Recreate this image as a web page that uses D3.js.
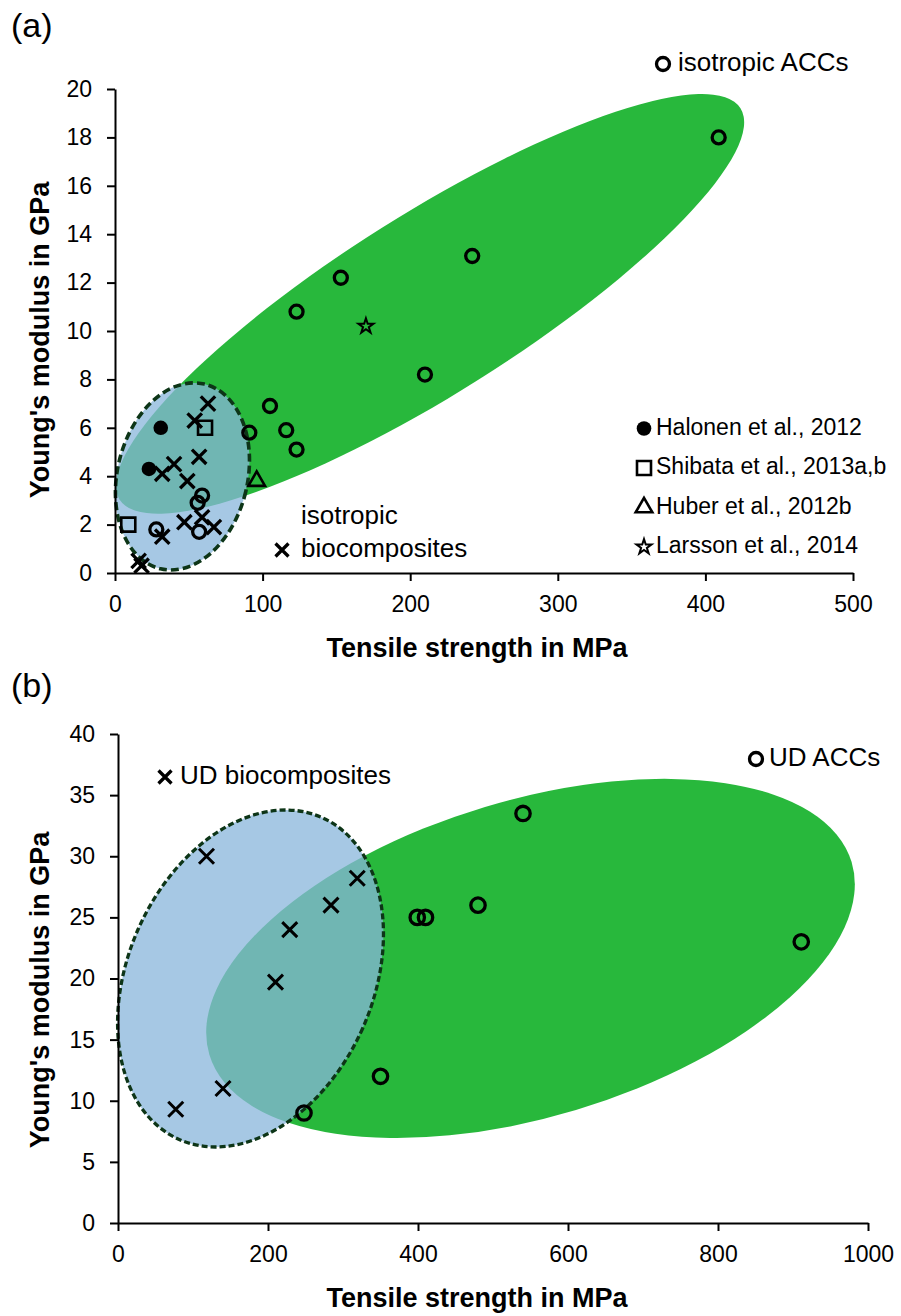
<!DOCTYPE html>
<html>
<head>
<meta charset="utf-8">
<script src="https://cdn.jsdelivr.net/npm/d3@7"></script>
<style>
  body { margin: 0; background: #fff; }
  text { font-family: "Liberation Sans", Arial, sans-serif; fill: #000; }
</style>
</head>
<body>
<svg id="chart" width="901" height="1316"></svg>
<script>
// ---- panel (a): isotropic materials [tensile strength MPa, Young's modulus GPa]
const isoACCs = [[409, 18], [242, 13.1], [153, 12.2], [123, 10.8], [210, 8.2], [105, 6.9],
                 [91, 5.8], [116, 5.9], [123, 5.1], [59, 3.2], [56, 2.9], [57, 1.7], [28, 1.8]];
const halonen = [[31, 6], [23, 4.3]];
const shibata = [[61, 6], [9, 2]];
const huber = [[96, 3.8]];
const larsson = [[170, 10.2]];
const isoBio = [[63, 7.0], [54, 6.3], [57, 4.8], [40, 4.5], [32, 4.1], [49, 3.8], [59, 2.3],
                [47, 2.1], [67, 1.9], [32, 1.5], [16, 0.5], [18, 0.3]];
const refNames = ["Halonen et al., 2012", "Shibata et al., 2013a,b", "Huber et al., 2012b", "Larsson et al., 2014"];

// ---- panel (b): unidirectional materials
const udACCs = [[540, 33.5], [480, 26], [399, 25], [410, 25], [911, 23], [350, 12], [248, 9]];
const udBio = [[118, 30], [319, 28.2], [284, 26], [229, 24], [210, 19.7], [140, 11], [77, 9.3]];

// shaded regions: centre in data units, semi-axes in x-axis units, tilt in degrees
const isoAccRegion = { cx: 213.4, cy: 11.12, rx: 248.6, ry: 61, angle: -32.2 };
const isoBioRegion = { cx: 45.7, cy: 3.99, rx: 44.1, ry: 64.3, angle: 13.4 };
const udAccRegion = { cx: 550, cy: 21.64, rx: 447, ry: 211, angle: -16.7 };
const udBioRegion = { cx: 176.7, cy: 20.0, rx: 163.6, ry: 234.8, angle: 23.9 };

const svg = d3.select("#chart");
const GREEN = "#28b83c";
const BLUE = "rgb(136,182,219)";

function crossPath(s) {
    return `M${-s},${-s}L${s},${s}M${-s},${s}L${s},${-s}`;
}

function drawPanel(p) {
    const x = d3.scaleLinear().domain(p.xDomain).range(p.xRange);
    const y = d3.scaleLinear().domain(p.yDomain).range(p.yRange);
    const k = Math.abs(x(1) - x(0));
    const g = svg.append("g");

    // regions
    function region(r, fill, opacity, dashed) {
        const e = g.append("ellipse")
            .attr("cx", 0).attr("cy", 0)
            .attr("rx", r.rx * k).attr("ry", r.ry * k)
            .attr("transform", `translate(${x(r.cx)},${y(r.cy)}) rotate(${r.angle})`)
            .attr("fill", fill)
            .attr("fill-opacity", opacity);
        if (dashed) {
            e.attr("stroke", "#0d3517")
             .attr("stroke-width", p.dashWidth)
             .attr("stroke-dasharray", p.dash);
        }
    }
    region(p.accRegion, GREEN, 1, false);
    region(p.bioRegion, BLUE, 0.75, true);

    // axes
    const fmt = d3.format("d");
    const xAxis = g.append("g")
        .attr("transform", `translate(0,${p.yRange[0]})`)
        .call(d3.axisBottom(x).tickValues(p.xTicks).tickFormat(fmt).tickSize(8).tickSizeOuter(0).tickPadding(15));
    const yAxis = g.append("g")
        .attr("transform", `translate(${p.xRange[0]},0)`)
        .call(d3.axisLeft(y).tickValues(p.yTicks).tickFormat(fmt).tickSize(8).tickSizeOuter(0).tickPadding(15));
    [xAxis, yAxis].forEach(a => {
        a.select(".domain").attr("stroke", "#000").attr("stroke-width", 2);
        a.selectAll(".tick line").attr("stroke", "#000").attr("stroke-width", 2);
        a.selectAll(".tick text").style("font-size", "23px").attr("fill", "#000")
            .style("font-family", "'Liberation Sans', Arial, sans-serif");
    });

    g.append("text")
        .attr("x", p.xTitlePos[0]).attr("y", p.xTitlePos[1])
        .attr("text-anchor", "middle").attr("dominant-baseline", "middle")
        .style("font-size", "27px").style("font-weight", "bold")
        .text("Tensile strength in MPa");
    g.append("text")
        .attr("transform", `translate(${p.yTitlePos[0]},${p.yTitlePos[1]}) rotate(-90)`)
        .attr("text-anchor", "middle").attr("dominant-baseline", "middle")
        .style("font-size", "27px").style("font-weight", "bold")
        .text("Young's modulus in GPa");
    g.append("text")
        .attr("x", 11).attr("y", p.panelLabelY)
        .attr("dominant-baseline", "middle")
        .style("font-size", "34px")
        .text(p.panelLabel);

    return { g, x, y };
}

// ---------------- panel (a)
const a = drawPanel({
    xDomain: [0, 500], xRange: [115, 853], yDomain: [0, 20], yRange: [573, 89],
    xTicks: d3.range(0, 501, 100), yTicks: d3.range(0, 21, 2),
    accRegion: isoAccRegion, bioRegion: isoBioRegion,
    dash: "8,4", dashWidth: 3.6,
    xTitlePos: [477, 650], yTitlePos: [42, 340],
    panelLabel: "(a)", panelLabelY: 28
});

a.g.append("g").selectAll("circle").data(isoACCs).join("circle")
    .attr("cx", d => a.x(d[0])).attr("cy", d => a.y(d[1])).attr("r", 6.5)
    .attr("fill", "none").attr("stroke", "#000").attr("stroke-width", 3.3);
a.g.append("g").selectAll("path").data(isoBio).join("path")
    .attr("transform", d => `translate(${a.x(d[0])},${a.y(d[1])})`)
    .attr("d", crossPath(7.2))
    .attr("fill", "none").attr("stroke", "#000").attr("stroke-width", 3.3);
a.g.append("g").selectAll("circle").data(halonen).join("circle")
    .attr("cx", d => a.x(d[0])).attr("cy", d => a.y(d[1])).attr("r", 7.3)
    .attr("fill", "#000");
a.g.append("g").selectAll("path").data(shibata).join("path")
    .attr("transform", d => `translate(${a.x(d[0])},${a.y(d[1])})`)
    .attr("d", d3.symbol(d3.symbolSquare, 196)())
    .attr("fill", "none").attr("stroke", "#000").attr("stroke-width", 2.6);
a.g.append("g").selectAll("path").data(huber).join("path")
    .attr("transform", d => `translate(${a.x(d[0])},${a.y(d[1])})`)
    .attr("d", d3.symbol(d3.symbolTriangle, 120)())
    .attr("fill", "none").attr("stroke", "#000").attr("stroke-width", 2.6);
a.g.append("g").selectAll("path").data(larsson).join("path")
    .attr("transform", d => `translate(${a.x(d[0])},${a.y(d[1])})`)
    .attr("d", d3.symbol(d3.symbolStar, 70)())
    .attr("fill", "none").attr("stroke", "#000").attr("stroke-width", 2);

// legend (a)
const legA = svg.append("g");
legA.append("circle").attr("cx", 663).attr("cy", 64).attr("r", 6.5)
    .attr("fill", "none").attr("stroke", "#000").attr("stroke-width", 3.3);
legA.append("text").attr("x", 678).attr("y", 64).attr("dominant-baseline", "middle")
    .style("font-size", "26px").text("isotropic ACCs");

legA.append("path").attr("transform", "translate(282,550)").attr("d", crossPath(6.5))
    .attr("stroke", "#000").attr("stroke-width", 3.3);
legA.append("text").attr("x", 301).attr("y", 517).attr("dominant-baseline", "middle")
    .style("font-size", "26px").text("isotropic");
legA.append("text").attr("x", 301).attr("y", 550).attr("dominant-baseline", "middle")
    .style("font-size", "26px").text("biocomposites");

const refSymbols = [
    g => g.append("circle").attr("r", 7.3).attr("fill", "#000"),
    g => g.append("path").attr("d", d3.symbol(d3.symbolSquare, 196)()).attr("fill", "none").attr("stroke", "#000").attr("stroke-width", 2.6),
    g => g.append("path").attr("d", d3.symbol(d3.symbolTriangle, 120)()).attr("fill", "none").attr("stroke", "#000").attr("stroke-width", 2.6),
    g => g.append("path").attr("d", d3.symbol(d3.symbolStar, 70)()).attr("fill", "none").attr("stroke", "#000").attr("stroke-width", 2)
];
refNames.forEach((name, i) => {
    const row = legA.append("g").attr("transform", `translate(644,${428.5 + i * 39.5})`);
    refSymbols[i](row);
    row.append("text").attr("x", 12).attr("y", 0).attr("dominant-baseline", "middle")
        .style("font-size", "23px").text(name);
});

// ---------------- panel (b)
const b = drawPanel({
    xDomain: [0, 1000], xRange: [118, 868], yDomain: [0, 40], yRange: [1223, 734],
    xTicks: d3.range(0, 1001, 200), yTicks: d3.range(0, 41, 5),
    accRegion: udAccRegion, bioRegion: udBioRegion,
    dash: "6,3", dashWidth: 3.3,
    xTitlePos: [477, 1300], yTitlePos: [42, 990],
    panelLabel: "(b)", panelLabelY: 688
});

b.g.append("g").selectAll("circle").data(udACCs).join("circle")
    .attr("cx", d => b.x(d[0])).attr("cy", d => b.y(d[1])).attr("r", 7.2)
    .attr("fill", "none").attr("stroke", "#000").attr("stroke-width", 3.3);
b.g.append("g").selectAll("path").data(udBio).join("path")
    .attr("transform", d => `translate(${b.x(d[0])},${b.y(d[1])})`)
    .attr("d", crossPath(7.5))
    .attr("fill", "none").attr("stroke", "#000").attr("stroke-width", 3);

const legB = svg.append("g");
legB.append("path").attr("transform", "translate(165,777)").attr("d", crossPath(6.5))
    .attr("stroke", "#000").attr("stroke-width", 3.3);
legB.append("text").attr("x", 180).attr("y", 777).attr("dominant-baseline", "middle")
    .style("font-size", "26px").text("UD biocomposites");
legB.append("circle").attr("cx", 756).attr("cy", 759).attr("r", 6.5)
    .attr("fill", "none").attr("stroke", "#000").attr("stroke-width", 3.3);
legB.append("text").attr("x", 769).attr("y", 759).attr("dominant-baseline", "middle")
    .style("font-size", "26px").text("UD ACCs");
</script>
</body>
</html>
